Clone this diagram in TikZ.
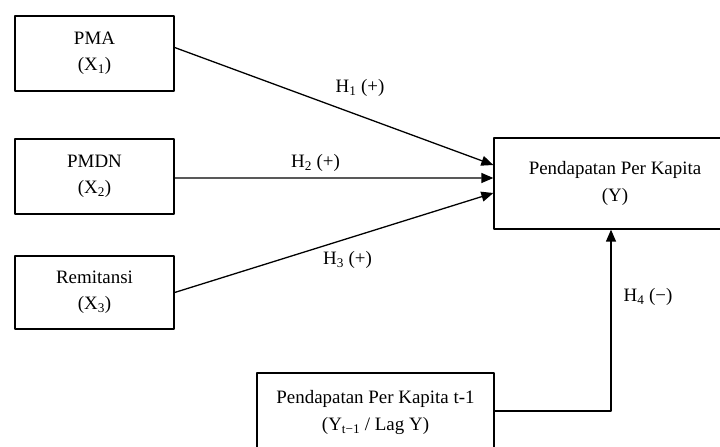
\documentclass[tikz,border=0pt]{standalone}
\usepackage{fontspec}
\setmainfont{Liberation Serif}
\usetikzlibrary{arrows.meta,calc}
\begin{document}
\begin{tikzpicture}[x=1bp,y=-1bp,line join=round,>={Triangle[length=12bp,width=10bp]},
	every node/.style={font=\fontsize{19}{26.5}\selectfont},
	varbox/.style={draw,line width=1.3pt,align=center,inner sep=0pt},
	hyp/.style={inner sep=0pt}]
			\useasboundingbox (0,0) rectangle (720,447);
			\clip (0,0) rectangle (720,447);
			\node[varbox,minimum width=159bp,minimum height=75bp] (pma) at (94.5,53.5) {PMA\\(X\textsubscript{1})};
			\node[varbox,minimum width=159bp,minimum height=75bp] (pmdn) at (94.5,176.5) {PMDN\\(X\textsubscript{2})};
			\node[varbox,minimum width=159bp,minimum height=73bp] (remit) at (94.5,292.5) {Remitansi\\(X\textsubscript{3})};
			\node[varbox,minimum width=242bp,minimum height=91bp] (ypc) at (615,183.5) {Pendapatan Per Kapita\\(Y)};
			\node[varbox,minimum width=237bp,minimum height=79bp] (lag) at (375.5,412.5) {Pendapatan Per Kapita t-1\\(Y\textsubscript{t−1} / Lag Y)};
			\draw[->,line width=1.3pt] ($(pma.east)+(0,-6)$)--($(ypc.west)+(0,-18.5)$);
			\draw[->,line width=1.3pt] ($(pmdn.east)+(0,1.5)$)--($(ypc.west)+(0,-5.5)$);
			\draw[->,line width=1.3pt] (remit.east)--($(ypc.west)+(0,9.5)$);
			\draw[->,line width=1.3pt] ($(lag.east)+(0,-1.5)$)-|($(ypc.south)+(-4,0)$);
			\node[hyp] (h1) at (360,88) {H\textsubscript{1} (+)};
			\node[hyp] (h2) at (315.5,163) {H\textsubscript{2} (+)};
			\node[hyp] (h3) at (347.5,260) {H\textsubscript{3} (+)};
			\node[hyp] (h4) at (648,297) {H\textsubscript{4} (−)};
			\end{tikzpicture}
\end{document}
